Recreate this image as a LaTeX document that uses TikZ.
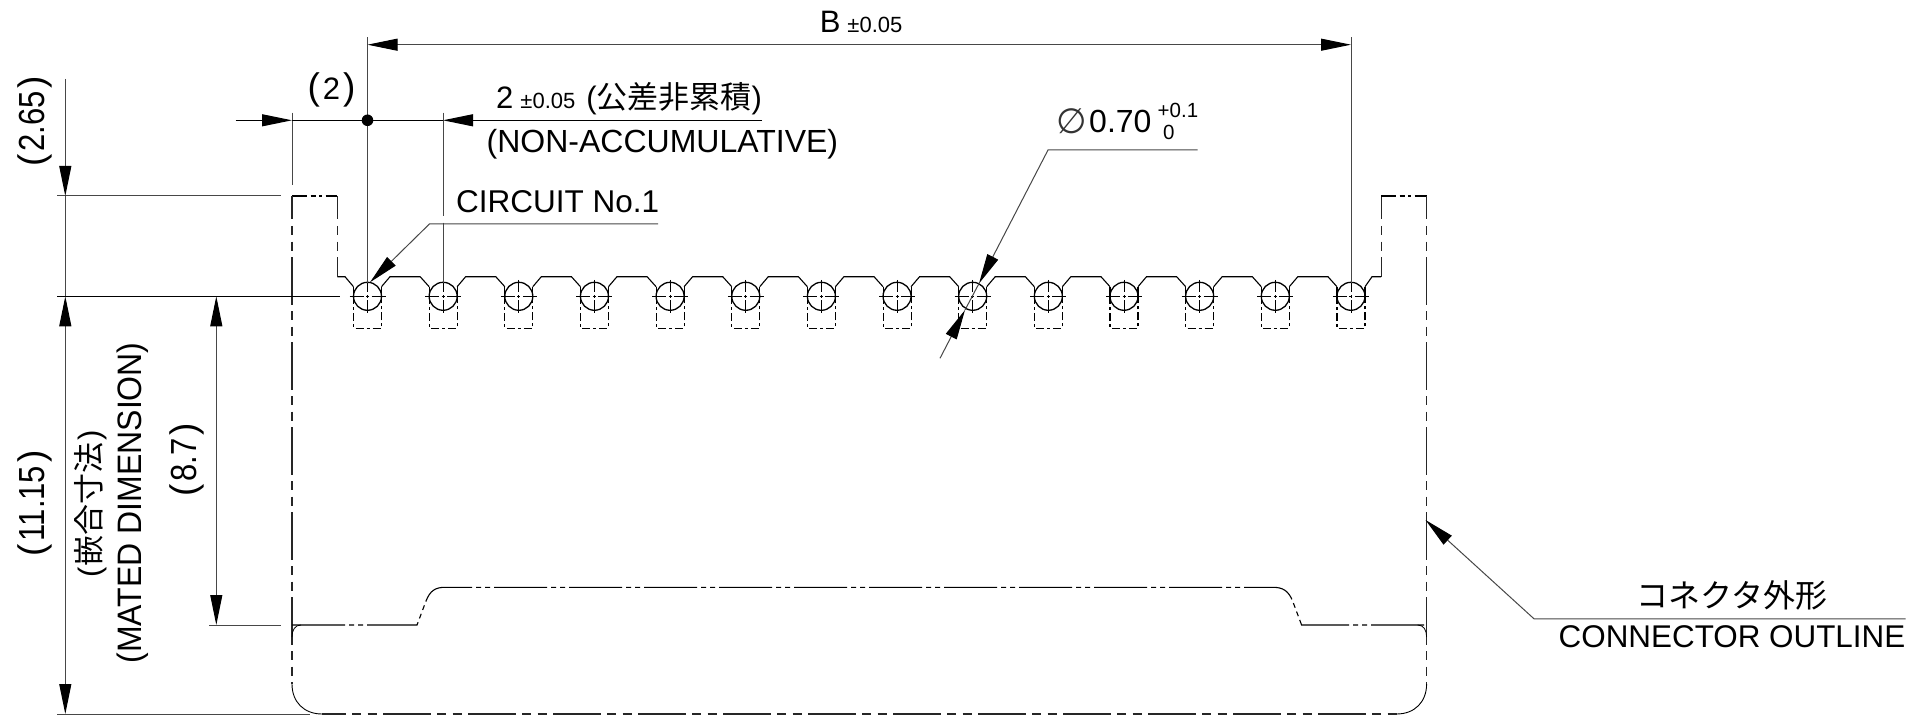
\documentclass[tikz,border=0pt]{standalone}
\usepackage{fontspec}
\usepackage{graphicx}
\setmainfont{Liberation Sans}
\newfontfamily\jpf{Noto Sans CJK JP}
\newfontfamily\djv{DejaVu Sans}
\usetikzlibrary{arrows.meta}
\newcommand\fs[1]{\fontsize{#1}{#1}\selectfont}
\newcommand\bpar[2]{{\fs{37}(}\hspace{#2}#1\hspace{#2}{\fs{37})}}
\tikzset{
  tk/.tip={Triangle[length=30pt,width=12pt,color=black,fill=black]},
  dimline/.style={draw=black!72,line width=1pt},
  contour/.style={draw=black,line width=1.1pt},
  pinline/.style={draw=black,line width=1.3pt},
  chain/.style={draw=black!85,line width=1.1pt,dash pattern=on 47.5pt off 6.5pt on 9pt off 6.5pt on 9pt off 6.5pt,dash phase=24pt},
  chainlow/.style={draw=black,line width=1.1pt,dash pattern=on 53pt off 4pt on 5pt off 4pt on 5pt off 4pt},
  chainshort/.style={draw=black,line width=1.1pt,dash pattern=on 15pt off 3.5pt on 5pt off 3.5pt on 3pt off 3.5pt on 15pt off 0pt},
  pinrect/.style={draw=black,line width=1.1pt,dash pattern=on 8pt off 3pt on 3pt off 3pt},
  tiparrow/.style={-tk},
  txt/.style={inner sep=0pt,font=\fs{31}},
}
\begin{document}
\begin{tikzpicture}[x=1pt,y=-1pt]
\useasboundingbox (0,0) rectangle (1919,722);
\def\ybase{296.3}
% ---- pins
\foreach \i in {0,...,13}{
  \pgfmathsetmacro{\cx}{367.5+\i*75.65}
  \draw[pinline] (\cx,\ybase) circle (14pt);
  \draw[pinrect] (\cx-14,\ybase) -- (\cx-14,328.3) -- (\cx+14,328.3) -- (\cx+14,\ybase);
  \draw[draw=black,line width=0.8pt] (\cx-18,\ybase) -- (\cx-4,\ybase) (\cx-1.5,\ybase) -- (\cx+1.5,\ybase) (\cx+4,\ybase) -- (\cx+18,\ybase);
  \draw[draw=black,line width=0.8pt] (\cx,\ybase-16.5) -- (\cx,\ybase-4) (\cx,\ybase-1.5) -- (\cx,\ybase+1.5) (\cx,\ybase+4) -- (\cx,\ybase+16.5);
  \draw[contour] (\cx-14,\ybase) -- (\cx-14,286.7) (\cx+14,\ybase) -- (\cx+14,286.7);
}
\foreach \i in {0,...,12}{
  \pgfmathsetmacro{\cx}{367.5+\i*75.65}
  \pgfmathsetmacro{\cn}{367.5+(\i+1)*75.65}
  \draw[contour] (\cx+14,286.7) -- (\cx+22.5,276.7) -- (\cn-23,276.7) -- (\cn-14,286.7);
}
% ---- connector outline, upper
\draw[contour] (337.4,276.7) -- (345,276.7) -- (353.5,286.7);
\draw[contour] (1365,286.7) -- (1372,276.7) -- (1381.2,276.7);
\draw[chain] (337.4,196) -- (337.4,276.7);
\draw[chainshort] (292,196) -- (337.4,196);
\draw[chain] (1381.2,196) -- (1381.2,276.7);
\draw[chainshort] (1381.2,196) -- (1426.6,196);
\draw[chain] (292,196) -- (292,684);
\draw[chain] (1426.6,196) -- (1426.6,684);
% ---- connector outline, lower
\draw[chainlow] (292,625) -- (417,625) -- (426,601) .. controls (430,591) and (435,587.3) .. (445,587.3) -- (1273,587.3) .. controls (1283,587.3) and (1288.6,591) .. (1292.6,601) -- (1301.6,625) -- (1426.6,625);
\draw[contour,line width=0.8pt] (292,637) .. controls (292,630) and (295,625) .. (301,625);
\draw[contour,line width=0.8pt] (1426.6,637) .. controls (1426.6,630) and (1423.6,625) .. (1417.6,625);
\draw[contour,line width=0.9pt] (292,684) .. controls (292,702) and (304,714) .. (322,714);
\draw[contour,line width=0.9pt] (1426.6,684) .. controls (1426.6,702) and (1414.6,714) .. (1396.6,714);
\draw[chain] (322,714) -- (1396.6,714);
% ---- extension lines
\draw[dimline] (367.5,37.3) -- (367.5,283);
\draw[dimline] (1351,37.3) -- (1351,283);
\draw[dimline] (443,112.7) -- (443,216) (443,222.7) -- (443,283);
\draw[dimline] (292,112.7) -- (292,185);
\draw[dimline] (57,196) -- (281,196);
\draw[draw=black,line width=1pt] (57,296.3) -- (340,296.3);
\draw[dimline] (209,625) -- (281,625);
\draw[dimline] (57,714) -- (310,714);
% ---- dimensions
\coordinate (bl) at (367.5,44.7);
\coordinate (br) at (1351,44.7);
\draw[dimline,tk-tk] (bl) -- (br);
\coordinate (p2a) at (235.5,120.3);
\coordinate (p2b) at (292,120.3);
\coordinate (p2c) at (443,120.3);
\coordinate (p2d) at (762,120.3);
\draw[draw=black,line width=1pt,tiparrow] (p2a) -- (p2b);
\draw[draw=black,line width=1pt] (p2b) -- (p2c);
\draw[draw=black,line width=1pt,tiparrow] (p2d) -- (p2c);
\fill[black] (367.5,120.3) circle (5.8pt);
\draw[dimline,tiparrow] (65.3,79) -- (65.3,196);
\draw[dimline] (65.3,196) -- (65.3,296.3);
\draw[dimline,tk-tk] (65.3,296.3) -- (65.3,714);
\draw[dimline,tk-tk] (216.3,296.3) -- (216.3,625);
% ---- leaders
\coordinate (c1a) at (658,224);
\coordinate (c1b) at (429.4,224);
\coordinate (c1c) at (370,282.3);
\draw[dimline,tiparrow] (c1a) -- (c1b) -- (c1c);
\coordinate (da) at (1197.7,150);
\coordinate (db) at (1048,150);
\coordinate (dc) at (979,283.5);
\coordinate (dd) at (965,310);
\coordinate (de) at (940,358.3);
\draw[dimline,tiparrow] (da) -- (db) -- (dc);
\draw[dimline] (dc) -- (dd);
\draw[dimline,tiparrow] (de) -- (dd);
\coordinate (oa) at (1905.5,618.8);
\coordinate (ob) at (1534,618.8);
\coordinate (oc) at (1425.5,520);
\draw[dimline,tiparrow] (oa) -- (ob) -- (oc);
% ---- texts
\node[txt,anchor=base west] (tb) at (819.6,33) {B\hspace{7pt}{\fs{22}±0.05}};
\node[txt,anchor=center] (t2) at (331.5,90) {\bpar{2}{3pt}};
\node[txt,anchor=base west] (tpitch) at (496,108.3) {2\hspace{7pt}{\fs{22}±0.05}\hspace{11pt}({\jpf 公差非累積})};
\node[txt,anchor=base west,font=\fs{32}] (tnon) at (486.5,152.5) {(NON-ACCUMULATIVE)};
\node[txt,anchor=base west,font=\fs{31.5}] (tcir) at (456,213) {CIRCUIT No.1};
\node[txt,anchor=base west,font=\fs{35}\djv,text=black!80] (tphi) at (1056,134) {∅};
\node[txt,anchor=base west,font=\fs{32}] (t070) at (1089,132.5) {0.70};
\node[txt,anchor=base west,font=\fs{20.5}] (tplus) at (1157.5,118) {+0.1};
\node[txt,anchor=base west,font=\fs{20.5}] (tzero) at (1163,140) {0};
\node[txt,anchor=base] (tjp) at (1732,607) {\fs{32}\jpf コネクタ外形};
\node[txt,anchor=base east] (tout) at (1905.5,647) {\fs{31.4}CONNECTOR OUTLINE};
\node[txt,rotate=90] (t265) at (35,121.5) {\bpar{\scalebox{1}[1.17]{2.65}}{3pt}};
\node[txt,rotate=90] (t1115) at (35,503.5) {\bpar{\scalebox{1}[1.17]{11.15}}{3pt}};
\node[txt,rotate=90] (t87) at (187,460) {\bpar{\scalebox{1}[1.17]{8.7}}{3pt}};
\node[txt,rotate=90] (tmj) at (90.5,504) {\fs{31}(\hspace{1.5pt}{\jpf 嵌合寸法}\hspace{1.5pt})};
\node[txt,rotate=90] (tmd) at (133,503) {\fs{32}\scalebox{1}[1.06]{(MATED DIMENSION)}};
\end{tikzpicture}
\end{document}
